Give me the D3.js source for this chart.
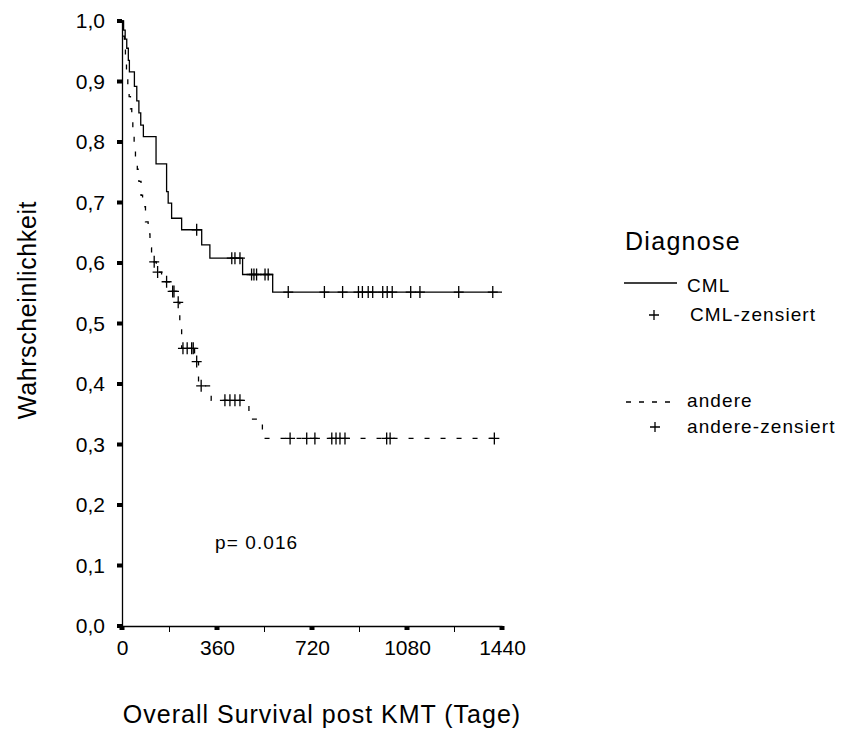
<!DOCTYPE html>
<html>
<head>
<meta charset="utf-8">
<script src="https://cdn.jsdelivr.net/npm/d3@7"></script>
<style>
  body { margin: 0; background: #fff; }
  svg text { font-family: 'Liberation Sans', Arial, sans-serif; fill: #000; }
</style>
</head>
<body>
<div class="visHolder"></div>
<script>
const w = 844, h = 733;

// tick values
const xTicks = [0, 360, 720, 1080, 1440];
const xMinorTicks = [180, 540, 900, 1260];
const yTicks = [0, 0.1, 0.2, 0.3, 0.4, 0.5, 0.6, 0.7, 0.8, 0.9, 1.0];

// CML: step times (days) and survival after each step
const cmlTimes = [0, 6, 12, 18, 24, 28, 47, 56, 64, 71, 81, 129, 169, 175, 188, 226, 302, 333, 457, 571];
const cmlSurv  = [1.0, 0.985, 0.970, 0.955, 0.935, 0.916, 0.892, 0.868, 0.848, 0.828, 0.809, 0.764, 0.718, 0.699, 0.674, 0.655, 0.630, 0.608, 0.581, 0.552];
const cmlEnd = 1440;
const cmlCensored = [283, 416, 428, 447, 491, 500, 510, 542, 554, 630, 767, 836, 896, 911, 933, 950, 988, 1005, 1024, 1094, 1129, 1276, 1405];

// andere
const andereTimes = [0, 4, 9, 13, 17, 22, 27, 32, 37, 41, 46, 51, 58, 64, 72, 78, 89, 99, 106, 112, 130, 150, 182, 205, 219, 226, 275, 290, 338, 481, 532];
const andereSurv  = [1.0, 0.975, 0.955, 0.935, 0.915, 0.895, 0.875, 0.855, 0.835, 0.815, 0.795, 0.775, 0.755, 0.735, 0.712, 0.693, 0.668, 0.648, 0.625, 0.602, 0.585, 0.569, 0.553, 0.535, 0.497, 0.459, 0.437, 0.397, 0.373, 0.342, 0.310];
const andereEnd = 1411;
const andereCensored = [122, 135, 169, 192, 197, 213, 231, 247, 264, 270, 283, 300, 390, 409, 428, 447, 637, 700, 731, 795, 811, 826, 845, 1003, 1016, 1411];

const pValue = 'p= 0.016';

const svg = d3.select('.visHolder')
  .append('svg')
  .attr('width', w)
  .attr('height', h);

const xScale = d3.scaleLinear().domain([0, 1440]).range([122, 502]);
const yScale = d3.scaleLinear().domain([0, 1]).range([626, 21]);

// axes
const yAxis = d3.axisLeft(yScale)
  .tickValues(yTicks)
  .tickFormat(d => d3.format('.1f')(d).replace('.', ','))
  .tickSize(0)
  .tickPadding(17);

svg.append('g')
  .attr('transform', 'translate(122,0)')
  .call(yAxis)
  .call(g => g.select('.domain').attr('stroke', '#000').attr('stroke-width', 1.3))
  .call(g => g.selectAll('text').style('font-size', '21px'));

const xAxis = d3.axisBottom(xScale)
  .tickValues(xTicks)
  .tickFormat(d3.format('d'))
  .tickSize(0)
  .tickPadding(14);

svg.append('g')
  .attr('transform', 'translate(0,626)')
  .call(xAxis)
  .call(g => g.select('.domain').attr('stroke', '#000').attr('stroke-width', 1.3))
  .call(g => g.selectAll('text').style('font-size', '21px'));

// tick squares
svg.selectAll('.ytick-mark')
  .data(yTicks)
  .enter()
  .append('rect')
  .attr('x', 117)
  .attr('y', d => yScale(d) - 2)
  .attr('width', 5)
  .attr('height', 4)
  .attr('fill', '#000');

svg.selectAll('.xtick-mark')
  .data(xTicks)
  .enter()
  .append('rect')
  .attr('x', d => xScale(d) - 2.5)
  .attr('y', 626)
  .attr('width', 5)
  .attr('height', 4)
  .attr('fill', '#000');

svg.selectAll('.xminor')
  .data(xMinorTicks)
  .enter()
  .append('line')
  .attr('x1', d => xScale(d))
  .attr('x2', d => xScale(d))
  .attr('y1', 626)
  .attr('y2', 632)
  .attr('stroke', '#000')
  .attr('stroke-width', 1);

// axis titles
svg.append('text')
  .attr('x', 322)
  .attr('y', 723)
  .attr('text-anchor', 'middle')
  .style('font-size', '25px')
  .style('letter-spacing', '1px')
  .text('Overall Survival post KMT (Tage)');

svg.append('text')
  .attr('transform', 'translate(36,310) rotate(-90)')
  .attr('text-anchor', 'middle')
  .style('font-size', '25px')
  .style('letter-spacing', '0.6px')
  .text('Wahrscheinlichkeit');

// curves
const stepLine = d3.line()
  .x(d => xScale(d[0]))
  .y(d => yScale(d[1]))
  .curve(d3.curveStepAfter);

function stepPoints(times, surv, end) {
  const pts = times.map((t, i) => [t, surv[i]]);
  pts.push([end, surv[surv.length - 1]]);
  return pts;
}

function survAt(times, surv, t) {
  let s = surv[0];
  times.forEach((tt, i) => { if (tt <= t) s = surv[i]; });
  return s;
}

const plusPath = (cx, cy, hw, hh) =>
  `M${cx - hw},${cy}H${cx + hw}M${cx},${cy - hh}V${cy + hh}`;

svg.append('path')
  .datum(stepPoints(cmlTimes, cmlSurv, cmlEnd))
  .attr('fill', 'none')
  .attr('stroke', '#000')
  .attr('stroke-width', 1.3)
  .attr('d', stepLine);

svg.append('path')
  .datum(stepPoints(andereTimes, andereSurv, andereEnd))
  .attr('fill', 'none')
  .attr('stroke', '#000')
  .attr('stroke-width', 1.3)
  .attr('stroke-dasharray', '5,11')
  .attr('d', stepLine);

svg.selectAll('.cml-cens')
  .data(cmlCensored)
  .enter()
  .append('path')
  .attr('stroke', '#000')
  .attr('stroke-width', 1.3)
  .attr('d', t => plusPath(xScale(t), yScale(survAt(cmlTimes, cmlSurv, t)), 5, 6));

svg.selectAll('.andere-cens')
  .data(andereCensored)
  .enter()
  .append('path')
  .attr('stroke', '#000')
  .attr('stroke-width', 1.3)
  .attr('d', t => plusPath(xScale(t), yScale(survAt(andereTimes, andereSurv, t)), 5, 6));

svg.append('text')
  .attr('x', 215)
  .attr('y', 549)
  .style('font-size', '19px')
  .style('letter-spacing', '1.1px')
  .text(pValue);

// legend
const legend = svg.append('g');

legend.append('text')
  .attr('x', 625)
  .attr('y', 250)
  .style('font-size', '25px')
  .style('letter-spacing', '1.3px')
  .text('Diagnose');

legend.append('line')
  .attr('x1', 624).attr('x2', 677)
  .attr('y1', 283).attr('y2', 283)
  .attr('stroke', '#000')
  .attr('stroke-width', 1.3);

legend.append('text')
  .attr('x', 687).attr('y', 292)
  .style('font-size', '19px')
  .style('letter-spacing', '1.1px')
  .text('CML');

legend.append('path')
  .attr('stroke', '#000')
  .attr('stroke-width', 1.3)
  .attr('d', plusPath(654, 315, 5, 5));

legend.append('text')
  .attr('x', 690).attr('y', 321)
  .style('font-size', '19px')
  .style('letter-spacing', '1.1px')
  .text('CML-zensiert');

legend.append('line')
  .attr('x1', 626).attr('x2', 677)
  .attr('y1', 402).attr('y2', 402)
  .attr('stroke', '#000')
  .attr('stroke-width', 1.3)
  .attr('stroke-dasharray', '5,8');

legend.append('text')
  .attr('x', 687).attr('y', 407)
  .style('font-size', '19px')
  .style('letter-spacing', '1.1px')
  .text('andere');

legend.append('path')
  .attr('stroke', '#000')
  .attr('stroke-width', 1.3)
  .attr('d', plusPath(655, 427, 5, 5));

legend.append('text')
  .attr('x', 687).attr('y', 433)
  .style('font-size', '19px')
  .style('letter-spacing', '1.1px')
  .text('andere-zensiert');
</script>
</body>
</html>
